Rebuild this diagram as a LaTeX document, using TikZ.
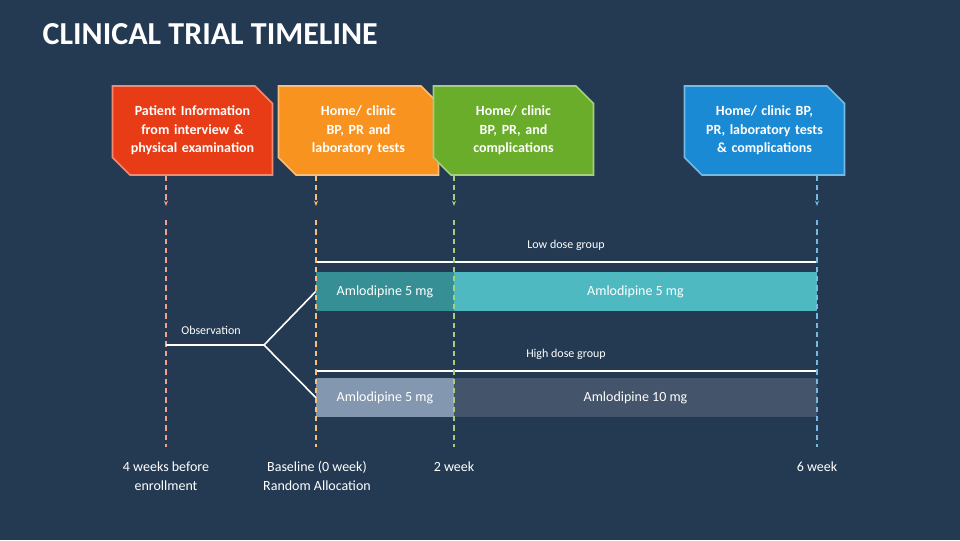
\documentclass[tikz,border=0pt]{standalone}
\usepackage{fontspec}
\setmainfont{Carlito}
\usetikzlibrary{shapes.misc,arrows.meta}
\definecolor{bgblue}{HTML}{243A52}
\definecolor{redbox}{HTML}{E83C17}
\definecolor{orangebox}{HTML}{F7931E}
\definecolor{greenbox}{HTML}{6AAD2A}
\definecolor{bluebox}{HTML}{1A8AD4}
\definecolor{tealdark}{HTML}{368F95}
\definecolor{teallight}{HTML}{4FB9C2}
\definecolor{slatelight}{HTML}{8497B0}
\definecolor{slatedark}{HTML}{44546A}

\begin{document}
\begin{tikzpicture}[x=0.75pt, y=-0.75pt,
    infobox/.style={
        chamfered rectangle,
        chamfered rectangle corners={north east, south west},
        chamfered rectangle xsep=10pt,
        minimum width=105.75pt,
        minimum height=66.75pt,
        inner sep=0pt,
        text width=100pt,
        align=center,
        text=white,
        font=\bfseries\fontsize{10.5}{14}\selectfont,
        line width=1.2pt
    },
    bar/.style={
        rectangle,
        inner sep=0pt,
        minimum height=29.25pt,
        text=white,
        font=\fontsize{10.5}{13}\selectfont
    },
    guide/.style={dashed, line width=1pt, dash pattern=on 4pt off 3pt},
    axislabel/.style={text=white, align=center, font=\fontsize{10.5}{14}\selectfont},
    smalllabel/.style={text=white, font=\fontsize{9}{11}\selectfont}
]
    \fill[bgblue] (0,0) rectangle (960,540);
    \useasboundingbox (0,0) rectangle (960,540);

    \node (title) [anchor=west, text=white, font=\bfseries\fontsize{24}{28}\selectfont] at (38,34)
    {
        CLINICAL TRIAL TIMELINE
    };

    % info boxes
    \node (patient_info) [infobox, fill=redbox, draw=redbox!60!white] at (192.5,130.5)
    {
        Patient Information from interview \& physical examination
    };
    \node (clinic_tests) [infobox, fill=orangebox, draw=orangebox!60!white] at (358.5,130.5)
    {
        Home/ clinic\\ BP, PR and\\ laboratory tests
    };
    \node (clinic_complications) [infobox, fill=greenbox, draw=greenbox!60!white] at (513.5,130.5)
    {
        Home/ clinic\\ BP, PR, and\\ complications
    };
    \node (clinic_all) [infobox, fill=bluebox, draw=bluebox!60!white] at (764.5,130.5)
    {
        Home/ clinic BP, PR, laboratory tests \& complications
    };

    % arrow tips under boxes
    \coordinate (tip_enroll) at (166,206);
    \coordinate (tip_base) at (316,206);
    \coordinate (tip_two) at (454,206);
    \coordinate (tip_six) at (817,206);
    \draw[guide, -{Stealth[length=4pt]}, redbox!50!white] (patient_info.south -| tip_enroll) -- (tip_enroll);
    \draw[guide, -{Stealth[length=4pt]}, orangebox!60!white] (clinic_tests.south -| tip_base) -- (tip_base);
    \draw[guide, -{Stealth[length=4pt]}, greenbox!60!white] (clinic_complications.south -| tip_two) -- (tip_two);
    \draw[guide, -{Stealth[length=4pt]}, bluebox!60!white] (clinic_all.south -| tip_six) -- (tip_six);

    % bars
    \node (low_first) [bar, fill=tealdark, minimum width=103.5pt] at (385,291.5) {Amlodipine 5 mg};
    \node (low_second) [bar, fill=teallight, minimum width=272.25pt] at (635.5,291.5) {Amlodipine 5 mg};
    \node (high_first) [bar, fill=slatelight, minimum width=103.5pt] at (385,397.5) {Amlodipine 5 mg};
    \node (high_second) [bar, fill=slatedark, minimum width=272.25pt] at (635.5,397.5) {Amlodipine 10 mg};

    % group lines
    \coordinate (low_start) at (316,262);
    \coordinate (low_end) at (817,262);
    \coordinate (high_start) at (316,371);
    \coordinate (high_end) at (817,371);
    \draw[white, line width=1.2pt] (low_start) -- (low_end);
    \draw[white, line width=1.2pt] (high_start) -- (high_end);
    \node (low_label) [smalllabel] at (566,245) {Low dose group};
    \node (high_label) [smalllabel] at (566,354) {High dose group};

    % vertical guides
    \coordinate (enroll_top) at (166,220);
    \coordinate (enroll_bottom) at (166,447);
    \coordinate (base_top) at (316,220);
    \coordinate (base_bottom) at (316,447);
    \coordinate (two_top) at (454,220);
    \coordinate (two_bottom) at (454,447);
    \coordinate (six_top) at (817,220);
    \coordinate (six_bottom) at (817,447);
    \draw[guide, redbox!50!white] (enroll_top) -- (enroll_bottom);
    \draw[guide, orangebox!60!white] (base_top) -- (base_bottom);
    \draw[guide, greenbox!60!white] (two_top) -- (two_bottom);
    \draw[guide, bluebox!60!white] (six_top) -- (six_bottom);

    % observation split
    \coordinate (obs_start) at (166,345);
    \coordinate (obs_split) at (264,345);
    \node (obs_label) [smalllabel] at (211,330) {Observation};
    \draw[white, line width=1.2pt] (obs_start) -- (obs_split) -- (low_first.west);
    \draw[white, line width=1.2pt] (obs_split) -- (high_first.west);

    % axis labels
    \node (label_enroll) [axislabel, anchor=north] at (166,457) {4 weeks before\\ enrollment};
    \node (label_base) [axislabel, anchor=north] at (317,457) {Baseline (0 week)\\ Random Allocation};
    \node (label_two) [axislabel, anchor=north] at (454,457) {2 week};
    \node (label_six) [axislabel, anchor=north] at (817,457) {6 week};
\end{tikzpicture}
\end{document}
